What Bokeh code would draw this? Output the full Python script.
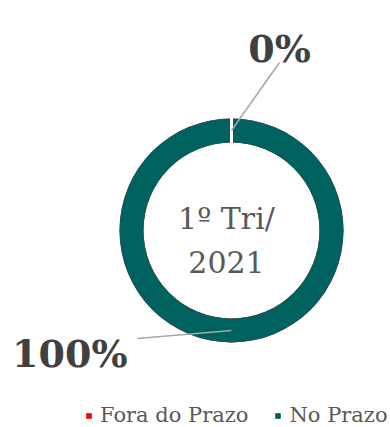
import math
import numpy as np
from bokeh.plotting import figure
from bokeh.models import Range1d, ColumnDataSource, Legend, LegendItem
from bokeh.core.properties import value
from bokeh.embed import file_html
from bokeh.resources import INLINE

# ---- data ----
categories = ["Fora do Prazo", "No Prazo"]
values = [0, 100]
colors = ["#FF0000", "#00625F"]
pct_labels = ["0%", "100%"]
center_lines = ["1º Tri/", "2021"]

# ---- layout ----
W, H = 390, 427
CX, CY = 231, 197
R_OUT, R_IN = 112, 88
R_LEADER = 100
SERIF = "DejaVu Serif"

p = figure(width=W, height=H, x_range=Range1d(0, W), y_range=Range1d(0, H),
           output_backend="svg", toolbar_location=None, min_border=0,
           background_fill_color="white", border_fill_color="white")
p.axis.visible = False
p.grid.visible = False
p.outline_line_color = None

total = float(sum(values))
fracs = np.array(values, dtype=float) / total
cum = np.concatenate([[0.0], np.cumsum(fracs)])
start = math.pi / 2 - 2 * math.pi * cum[:-1]
end = math.pi / 2 - 2 * math.pi * cum[1:]
mid = (start + end) / 2

src = ColumnDataSource(dict(cat=categories, val=values, color=colors,
                            start=start, end=end))
ring = p.annular_wedge(x=CX, y=CY, inner_radius=R_IN, outer_radius=R_OUT,
                       start_angle="start", end_angle="end", direction="clock",
                       fill_color="color", line_color=None, source=src)

# white slice separators
p.segment(x0=CX + (R_IN - 1) * np.cos(start), y0=CY + (R_IN - 1) * np.sin(start),
          x1=CX + (R_OUT + 1) * np.cos(start), y1=CY + (R_OUT + 1) * np.sin(start),
          line_color="white", line_width=3)

# leader lines and data labels
leader_end = [(48, 168), (-94, -108)]
label_anchor = [(48, 182, "center"), (-104, -123, "right")]
lx0 = CX + R_LEADER * np.cos(mid)
ly0 = CY + R_LEADER * np.sin(mid)
lx1 = [CX + dx for dx, dy in leader_end]
ly1 = [CY + dy for dx, dy in leader_end]
p.segment(x0=lx0, y0=ly0, x1=lx1, y1=ly1, line_color="#A6A6A6", line_width=1.5)

p.text(x=[CX + a[0] for a in label_anchor], y=[CY + a[1] for a in label_anchor],
       text=pct_labels, text_align=[a[2] for a in label_anchor],
       text_baseline="alphabetic", text_font=value(SERIF), text_font_style="bold",
       text_font_size="38px", text_color="#404040")

# center title
p.text(x=[CX - 5, CX - 5], y=[CY + 12, CY - 31], text=center_lines,
       text_align="center", text_baseline="alphabetic", text_font=value(SERIF),
       text_font_size="30px", text_color="#595959")

legend = Legend(items=[LegendItem(label=c, renderers=[ring], index=i)
                       for i, c in enumerate(categories)],
                orientation="horizontal", location=(85, 0),
                glyph_width=7, glyph_height=7, label_standoff=8, spacing=26,
                padding=0, margin=0, border_line_color=None,
                background_fill_alpha=0,
                label_text_font=SERIF, label_text_font_size="21px",
                label_text_color="#595959")
p.add_layout(legend)

open("out.html", "w").write(file_html(p, INLINE))
